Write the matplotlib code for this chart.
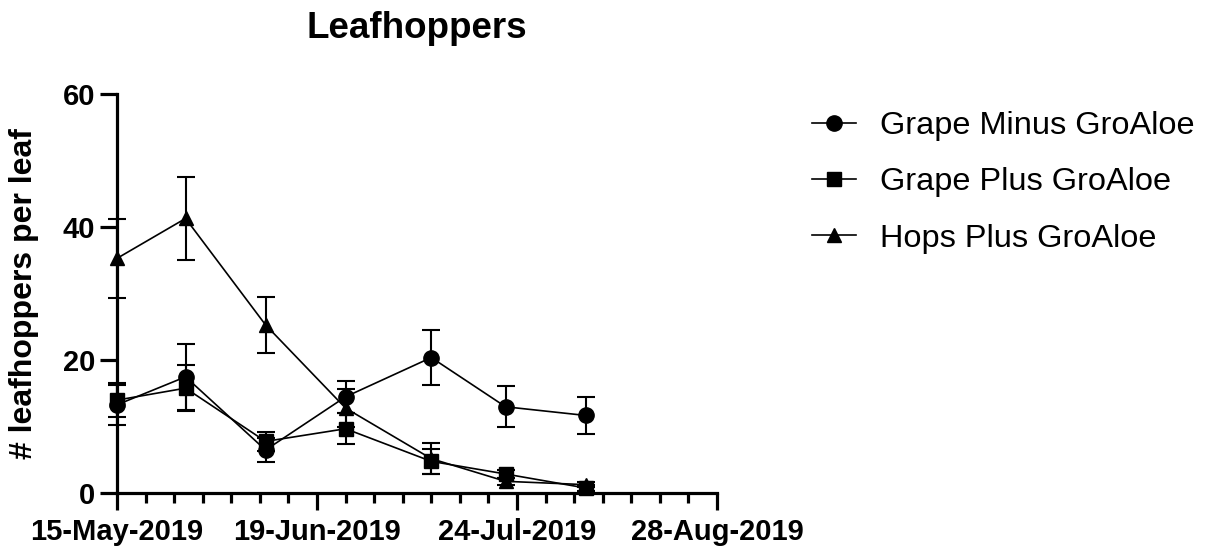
import matplotlib
matplotlib.use("Agg")
import matplotlib.pyplot as plt
import matplotlib.dates as mdates
from matplotlib.lines import Line2D
import datetime as dt

plt.rcParams['font.family'] = ['Liberation Sans', 'DejaVu Sans']

dates = ["2019-05-15", "2019-05-27", "2019-06-10", "2019-06-24",
         "2019-07-09", "2019-07-22", "2019-08-05"]

grape_minus = [13.3, 17.5, 6.5, 14.5, 20.4, 13.0, 11.7]
grape_minus_err = [3.0, 5.0, 1.8, 2.4, 4.2, 3.1, 2.8]

grape_plus = [14.0, 15.8, 7.8, 9.7, 4.8, 2.9, 0.8]
grape_plus_err = [2.6, 3.5, 1.4, 2.3, 1.9, 0.6, 0.4]

hops_plus = [35.3, 41.3, 25.3, 12.8, 5.2, 1.8, 1.3]
hops_plus_err = [5.9, 6.3, 4.2, 2.8, 2.3, 0.5, 0.4]

series_names = ["Grape Minus GroAloe", "Grape Plus GroAloe", "Hops Plus GroAloe"]
markers = ["o", "s", "^"]
msizes = [11, 10, 10]

x = [dt.datetime.strptime(d, "%Y-%m-%d") for d in dates]

fig = plt.figure(figsize=(12.07, 5.50), dpi=100)
ax = fig.add_axes([117/1207, 1 - 493.3/550, 600/1207, 399.3/550])

data = [(grape_minus, grape_minus_err), (grape_plus, grape_plus_err), (hops_plus, hops_plus_err)]
handles = []
for (vals, errs), name, m, ms in zip(data, series_names, markers, msizes):
    ax.errorbar(x, vals, yerr=errs, color="black", marker=m, markersize=ms,
                linewidth=1.2, elinewidth=1.5, capsize=6.5, capthick=1.5,
                clip_on=False)
    handles.append(Line2D([], [], color="black", marker=m, markersize=ms,
                          linewidth=1.2, label=name))

ax.set_ylim(0, 60)
ax.set_yticks([0, 20, 40, 60])
ax.set_xlim(dt.datetime(2019, 5, 15), dt.datetime(2019, 8, 28))
start = dt.datetime(2019, 5, 15)
ax.set_xticks([mdates.date2num(start + dt.timedelta(days=d)) for d in range(0, 106, 35)])
ax.set_xticks([mdates.date2num(start + dt.timedelta(days=d)) for d in range(0, 106, 5)], minor=True)
ax.xaxis.set_major_formatter(mdates.DateFormatter("%d-%b-%Y"))

for s in ["top", "right"]:
    ax.spines[s].set_visible(False)
for s in ["left", "bottom"]:
    ax.spines[s].set_linewidth(2.3)

ax.tick_params(axis="y", which="major", length=12, width=2.3, labelsize=21, pad=3.5)
ax.tick_params(axis="x", which="major", length=12, width=2.3, labelsize=21, pad=6)
ax.tick_params(axis="x", which="minor", length=7, width=2.3)
for lab in ax.get_xticklabels() + ax.get_yticklabels():
    lab.set_fontweight("bold")

ax.set_ylabel("# leafhoppers per leaf", fontsize=23, fontweight="bold", labelpad=17)
ax.set_title("Leafhoppers", fontsize=26.5, fontweight="bold", pad=40)

leg = ax.legend(handles=handles, loc="upper left", bbox_to_anchor=(812/1207, 1 - 111/550),
                bbox_transform=fig.transFigure, frameon=False, fontsize=23.4,
                handlelength=1.35, handletextpad=0.74, labelspacing=0.81,
                borderaxespad=0, borderpad=0)

fig.savefig("out.png", dpi=100)
